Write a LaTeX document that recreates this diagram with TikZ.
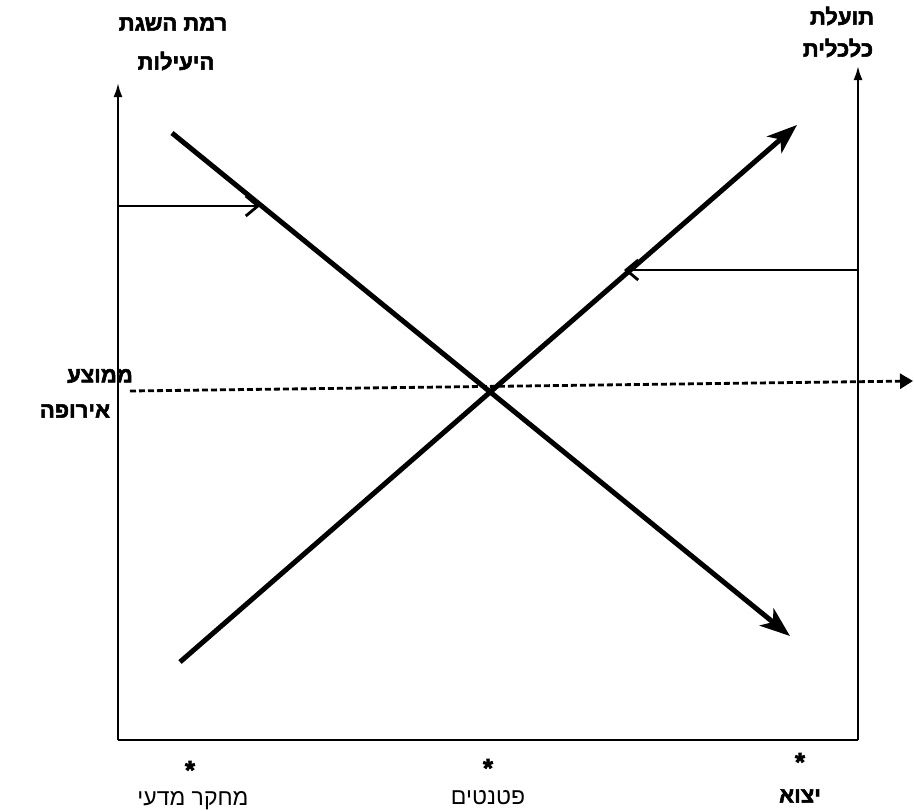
\documentclass[tikz,border=0pt]{standalone}
\usepackage{fontspec}
\newfontfamily\heb[Script=Hebrew,BoldFont={Liberation Sans Bold},BoldFeatures={FakeBold=2.5}]{Liberation Sans}
\TeXXeTstate=1
\usetikzlibrary{arrows.meta}
\begin{document}
\begin{tikzpicture}[x=1pt,y=-1pt,
  axis/.style={line width=2.2pt},
  axarrow/.style={axis,-{Latex[length=14pt,width=9pt]}},
  bigline/.style={line width=5pt,-{Stealth[length=30pt,width=22pt,inset=8pt]}},
  thinarrow/.style={line width=2pt,-{Straight Barb[length=12pt,width=20pt,line width=2.8pt]}},
  dashline/.style={line width=2.8pt,dash pattern=on 6pt off 3pt,-{Triangle[length=13pt,width=15pt]}},
  lbl/.style={font=\heb\bfseries\fontsize{22}{26}\selectfont,inner sep=0pt},
  lblr/.style={font=\heb\fontsize{23}{26}\selectfont,inner sep=0pt},
  star/.style={font=\heb\bfseries\fontsize{26}{26}\selectfont,inner sep=0pt}]
\useasboundingbox (0,0) rectangle (914,811);
% axes
\coordinate (O) at (118,740);
\coordinate (Ltop) at (118,83);
\coordinate (R) at (858,740);
\coordinate (Rtop) at (858,66);
\draw[axis] (R) -- (O);
\draw[axarrow] (O) -- (Ltop);
\draw[axarrow] (R) -- (Rtop);
% main crossing lines
\coordinate (A1) at (172,133);
\coordinate (A2) at (790,636);
\coordinate (B1) at (180,662);
\coordinate (B2) at (797,125);
\draw[bigline] (A1) -- (A2);
\draw[bigline] (B1) -- (B2);
% horizontal arrows
\coordinate (h1) at (118,206);
\coordinate (h1e) at (260,206);
\draw[thinarrow] (h1) -- (h1e);
\coordinate (h2) at (858,270);
\coordinate (h2e) at (624,270);
\draw[thinarrow] (h2) -- (h2e);
% dashed average line
\coordinate (d1) at (130,391);
\coordinate (d2) at (913,381);
\draw[dashline] (d1) -- (d2);
% labels
\node[lbl] (l1) at (173,24) {\beginR רמת השגת\endR};
\node[lbl] (l2) at (176,61) {\beginR היעילות\endR};
\node[lbl] (r1) at (842,16) {\beginR תועלת\endR};
\node[lbl] (r2) at (838,48) {\beginR כלכלית\endR};
\node[lbl] (m1) at (100,376) {\beginR ממוצע\endR};
\node[lbl] (m2) at (75,411) {\beginR אירופה\endR};
% bottom
\node[star] (s1) at (190,770) {*};
\node[star] (s2) at (488,768) {*};
\node[star] (s3) at (800,762) {*};
\node[lblr] (b1) at (193,801) {\beginR מחקר מדעי\endR};
\node[lblr] (b2) at (488,798) {\beginR פטנטים\endR};
\node[lbl] (b3) at (800,796) {\beginR יצוא\endR};
\end{tikzpicture}
\end{document}
